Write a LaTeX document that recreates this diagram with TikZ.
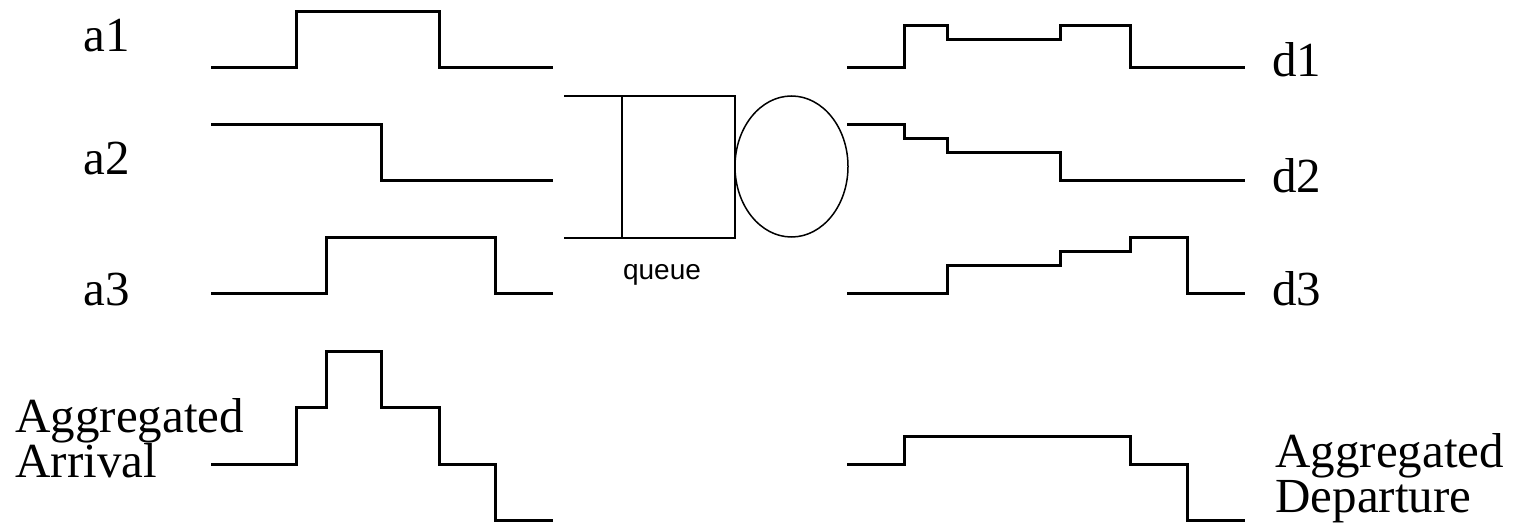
\documentclass[tikz,border=0pt]{standalone}
\usepackage{fontspec}
\setmainfont{Liberation Serif}
\newfontfamily\queuefont{Liberation Sans}
\usepackage{tikz}
\usetikzlibrary{calc}

\tikzset{
    wave/.style={black, line width=1.5pt, line join=miter},
    qline/.style={black, line width=1pt},
    sig/.style={font=\fontsize{24.5}{22.5}\selectfont, inner sep=0pt},
}

\begin{document}
\begin{tikzpicture}[x=0.5pt, y=-0.5pt]

    %% Frame of the picture (pixel units, y downwards)
    \useasboundingbox (0,0) rectangle (1515,529);

    %% --- Arrival signals ---
    \draw[wave] (211,68) -- (296,68) -- (296,12) -- (439,12) -- (439,68) -- (553,68);    % a1
    \draw[wave] (211,125) -- (381,125) -- (381,181) -- (553,181);                          % a2
    \draw[wave] (211,294) -- (326,294) -- (326,238) -- (495,238) -- (495,294) -- (553,294); % a3

    %% sum of a1, a2, a3
    \draw[wave] (211,464) -- (296,464) -- (296,407) -- (326,407) -- (326,351)
        -- (381,351) -- (381,407) -- (439,407) -- (439,464) -- (495,464)
        -- (495,520) -- (553,520);

    %% --- Queue and server ---
    \coordinate (QA) at (564,96);
    \coordinate (QB) at (735,238);
    \draw[qline] (QA) -- (QA -| QB) -- (QB) -- (QB -| QA);
    \draw[qline] (622,96) -- (622,238);
    \draw[black, line width=0.75pt] (791.5,166.5) ellipse [x radius=56.5, y radius=70.5];
    \node[font=\queuefont\fontsize{14}{14}\selectfont, anchor=base, inner sep=0pt] (qlabel) at (662,279) {queue};

    %% --- Departure signals ---
    \draw[wave] (847,68) -- (904,68) -- (904,26) -- (947,26) -- (947,40) -- (1060,40)
        -- (1060,26) -- (1130,26) -- (1130,68) -- (1245,68);                               % d1
    \draw[wave] (847,125) -- (904,125) -- (904,139) -- (947,139) -- (947,153)
        -- (1060,153) -- (1060,181) -- (1245,181);                                         % d2
    \draw[wave] (847,294) -- (947,294) -- (947,266) -- (1060,266) -- (1060,252)
        -- (1130,252) -- (1130,238) -- (1187,238) -- (1187,294) -- (1245,294);             % d3

    %% sum of d1, d2, d3
    \draw[wave] (847,464) -- (904,464) -- (904,436) -- (1130,436) -- (1130,464)
        -- (1187,464) -- (1187,520) -- (1245,520);

    %% --- Labels ---
    \node[sig, anchor=base west] (a1) at (83,52) {a1};
    \node[sig, anchor=base west] (a2) at (83,175) {a2};
    \node[sig, anchor=base west] (a3) at (83,306) {a3};

    \node[sig, anchor=base west] (d1) at (1272,77) {d1};
    \node[sig, anchor=base west] (d2) at (1272,193) {d2};
    \node[sig, anchor=base west] (d3) at (1272,306) {d3};

    %% base = baseline of the last line
    \node[sig, anchor=base west, align=left] (aggin) at (15,477) {Aggregated\\Arrival};
    \node[sig, anchor=base west, align=left] (aggout) at (1275,512) {Aggregated\\Departure};

\end{tikzpicture}
\end{document}
